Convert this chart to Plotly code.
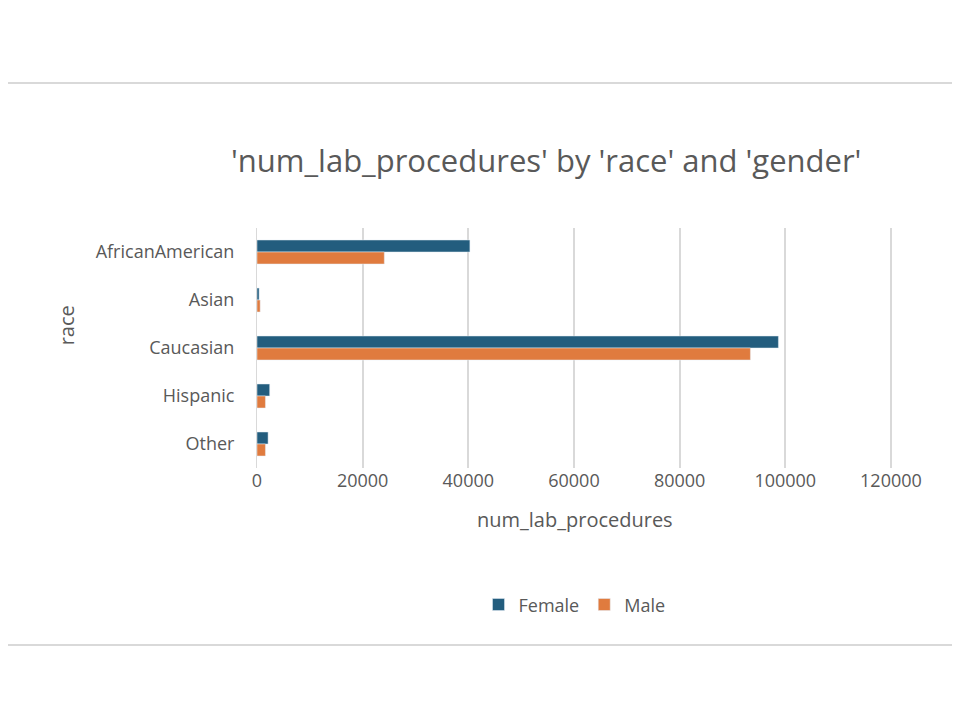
import plotly.graph_objects as go

races = ['AfricanAmerican', 'Asian', 'Caucasian', 'Hispanic', 'Other']
female = [40300, 400, 98700, 2400, 2100]
male = [24100, 600, 93400, 1600, 1600]

fig = go.Figure()
fig.add_bar(y=races, x=female, name='Female', orientation='h', marker_color='#235D7E')
fig.add_bar(y=races, x=male, name='Male', orientation='h', marker_color='#E07B3E')

grey = '#595959'
fig.update_layout(
    width=960, height=720,
    paper_bgcolor='white', plot_bgcolor='white',
    font=dict(family='Open Sans', color=grey, size=18),
    margin=dict(l=249, r=76, t=220, b=260),
    barmode='group', bargap=0.5, bargroupgap=0,
    showlegend=True,
    legend=dict(orientation='h', x=0.5, xanchor='center', y=-0.57, yanchor='middle',
                font=dict(size=18, color=grey)),
    shapes=[dict(type='rect', xref='paper', yref='paper', x0=-0.4, x1=1.102,
                 y0=-0.7375, y1=1.604, line=dict(color='#d9d9d9', width=2))],
    annotations=[
        dict(text="'num_lab_procedures' by 'race' and 'gender'", xref='paper', yref='paper',
             x=0.455, y=1.38, showarrow=False, font=dict(size=31, color=grey)),
        dict(text='num_lab_procedures', xref='paper', yref='paper', x=0.5, y=-0.28,
             showarrow=False, font=dict(size=20, color=grey)),
        dict(text='race', xref='paper', yref='paper', x=-0.323, y=0.596, textangle=-90,
             showarrow=False, font=dict(size=20, color=grey)),
    ],
)
fig.update_xaxes(range=[0, 120200], tickvals=[0, 20000, 40000, 60000, 80000, 100000, 120000],
                 showgrid=True, gridcolor='#d9d9d9',
                 gridwidth=1.5, zeroline=False, tickformat='d', ticks='', ticklen=10,
                 tickcolor='white')
fig.update_yaxes(autorange='reversed', showgrid=False, ticks='outside', ticklen=18,
                 tickcolor='white', showline=True, linecolor='#d9d9d9')

fig.write_html('out.html')
